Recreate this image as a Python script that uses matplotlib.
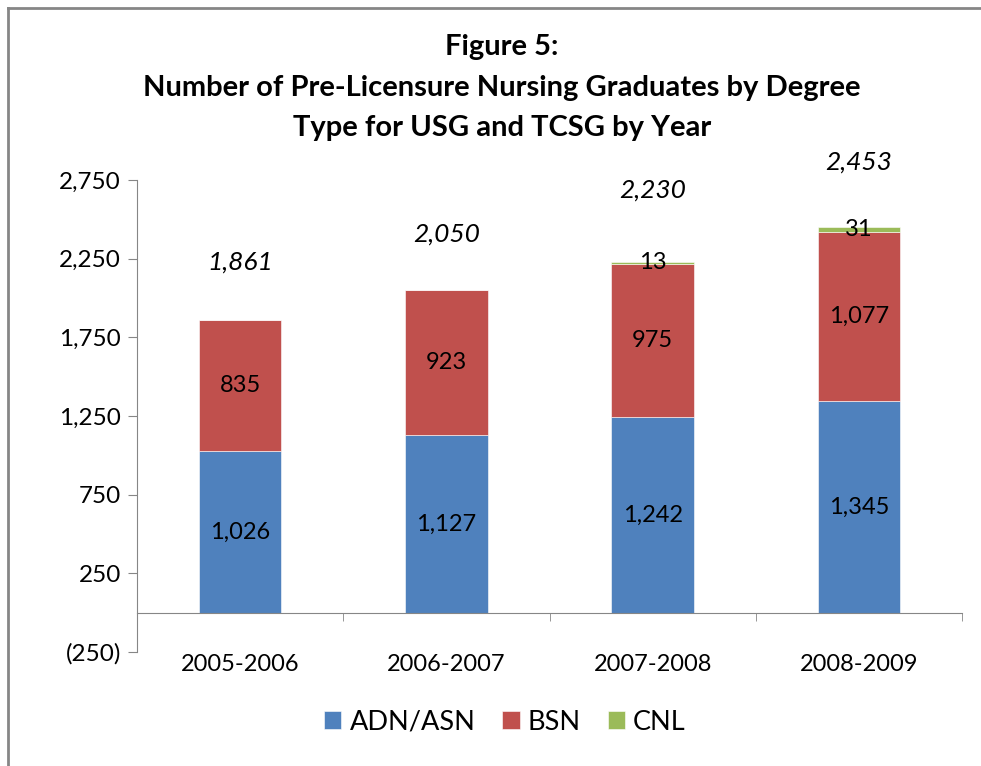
import matplotlib
matplotlib.use("Agg")
import matplotlib.pyplot as plt
from matplotlib.lines import Line2D
from matplotlib.ticker import FuncFormatter

years = ["2005-2006", "2006-2007", "2007-2008", "2008-2009"]
adn = [1026, 1127, 1242, 1345]
bsn = [835, 923, 975, 1077]
cnl = [0, 0, 13, 31]
totals = [1861, 2050, 2230, 2453]
total_label_y = [2226, 2404, 2684, 2862]

colors = {"ADN/ASN": "#4F81BD", "BSN": "#C0504D", "CNL": "#9BBB59"}
FONT = ["Lato", "DejaVu Sans"]
plt.rcParams["font.family"] = FONT

fig = plt.figure(figsize=(9.81, 7.66), dpi=100)
ax = fig.add_axes([137/981, 1-652/766, (962-137)/981, (652-180)/766])

x = list(range(len(years)))
w = 0.4
b1 = ax.bar(x, adn, w, color=colors["ADN/ASN"], label="ADN/ASN", edgecolor="white", linewidth=0.4)
b2 = ax.bar(x, bsn, w, bottom=adn, color=colors["BSN"], label="BSN", edgecolor="white", linewidth=0.4)
bottom3 = [a + b for a, b in zip(adn, bsn)]
b3 = ax.bar(x, cnl, w, bottom=bottom3, color=colors["CNL"], label="CNL", edgecolor="white", linewidth=0.4)

fs = 17
for i in x:
    ax.text(i, adn[i] / 2, f"{adn[i]:,}", ha="center", va="center", fontsize=fs)
    ax.text(i, adn[i] + bsn[i] / 2, f"{bsn[i]:,}", ha="center", va="center", fontsize=fs)
    if cnl[i] > 0:
        ax.text(i, bottom3[i] + cnl[i] / 2, f"{cnl[i]:,}", ha="center", va="center", fontsize=fs)
    ax.text(i, total_label_y[i], f"{totals[i]:,}", ha="center", va="center", fontsize=19, style="italic")

ax.set_xlim(-0.5, 3.5)
ax.set_ylim(-250, 2750)
ax.set_yticks([-250, 250, 750, 1250, 1750, 2250, 2750])
ax.yaxis.set_major_formatter(FuncFormatter(lambda v, p: f"({abs(int(v)):,})" if v < 0 else f"{int(v):,}"))

gray = "#868686"
for s in ["top", "right"]:
    ax.spines[s].set_visible(False)
ax.spines["left"].set_color(gray)
ax.spines["bottom"].set_color(gray)
ax.spines["bottom"].set_position(("data", 0))
ax.tick_params(axis="y", direction="out", length=6.5, color=gray, labelsize=17.5, pad=5)
ax.set_xticks(x)
ax.set_xticklabels(years)
ax.tick_params(axis="x", which="major", length=0, labelsize=17, pad=30)
ax.set_xticks([0.5, 1.5, 2.5, 3.5], minor=True)
ax.tick_params(axis="x", which="minor", direction="out", length=6, color=gray)

tfs = 21
tx = 502/981
fig.text(tx, 1-47/766, "Figure 5:", ha="center", va="center", fontsize=tfs, fontweight="bold")
fig.text(tx, 1-88/766, "Number of Pre-Licensure Nursing Graduates by Degree", ha="center", va="center", fontsize=tfs, fontweight="bold")
fig.text(tx, 1-128/766, "Type for USG and TCSG by Year", ha="center", va="center", fontsize=tfs, fontweight="bold")

leg = fig.legend(handles=[b1, b2, b3], loc="center", bbox_to_anchor=(505/981, 1-722/766), ncol=3,
                 frameon=False, fontsize=19.5, handlelength=0.63, handleheight=0.63, handletextpad=0.3,
                 columnspacing=1.0)

fig.add_artist(Line2D([8/981, 8/981], [0, 1-8/766], transform=fig.transFigure, color=gray, linewidth=2))
fig.add_artist(Line2D([8/981, 1], [1-8/766, 1-8/766], transform=fig.transFigure, color=gray, linewidth=2))

fig.savefig("out.png", dpi=100)
